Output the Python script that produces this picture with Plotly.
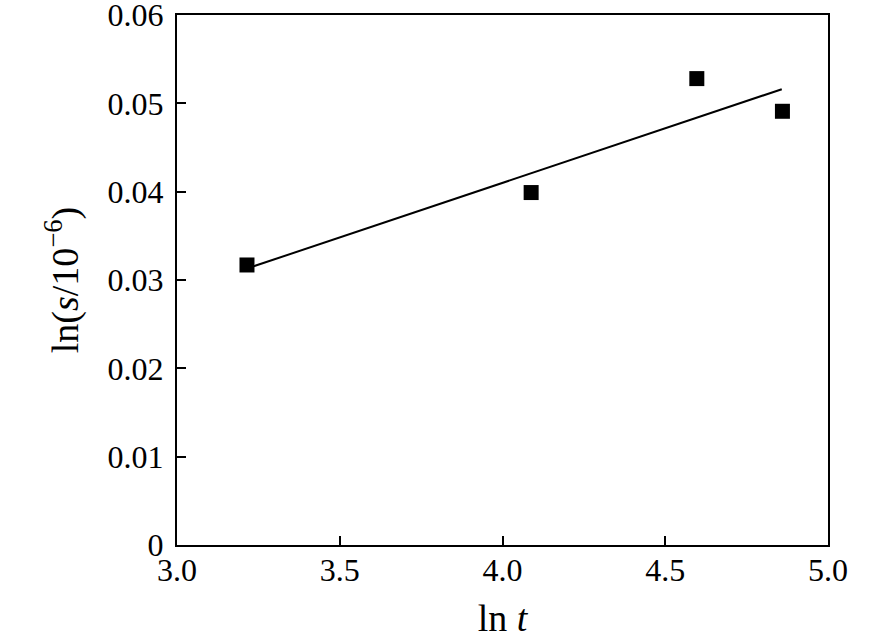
import plotly.graph_objects as go

# measured points
ln_t = [3.215, 4.088, 4.597, 4.860]
ln_s = [0.0317, 0.0399, 0.0528, 0.0491]

# fitted line ends
fit_x = [3.215, 4.858]
fit_y = [0.0313, 0.0516]

x_ticks = [3.0, 3.5, 4.0, 4.5, 5.0]
x_labels = ["3.0", "3.5", "4.0", "4.5", "5.0"]
y_ticks = [0, 0.01, 0.02, 0.03, 0.04, 0.05, 0.06]
y_labels = ["0", "0.01", "0.02", "0.03", "0.04", "0.05", "0.06"]

fig = go.Figure()

fig.add_trace(go.Scatter(x=fit_x, y=fit_y, mode='lines',
                         line=dict(color='black', width=2),
                         showlegend=False))
fig.add_trace(go.Scatter(x=ln_t, y=ln_s, mode='markers',
                         marker=dict(symbol='square', size=15, color='black'),
                         showlegend=False))

fnt = dict(family='Liberation Serif', size=32, color='black')

fig.update_layout(
    width=886, height=642,
    margin=dict(l=177, r=58, t=15, b=97),
    plot_bgcolor='white', paper_bgcolor='white',
    font=fnt,
    xaxis=dict(range=[3.0, 5.0], tickvals=x_ticks, ticktext=x_labels,
               ticks='inside', ticklen=9, tickwidth=2, tickcolor='black',
               showline=True, linewidth=2, linecolor='black', mirror=True,
               showgrid=False, zeroline=False, automargin=False,
               title=dict(text='ln <i>t</i>', standoff=17),
               ticklabelstandoff=-4, ticklabeloverflow='allow'),
    yaxis=dict(range=[0, 0.06000001], tickvals=y_ticks, ticktext=y_labels,
               ticks='inside', ticklen=9, tickwidth=2, tickcolor='black',
               showline=True, linewidth=2, linecolor='black', mirror=True,
               showgrid=False, zeroline=False, automargin=False,
               title=dict(text='ln(<i>s</i>/10<sup>−6</sup>)', standoff=17),
               ticklabelstandoff=5, ticklabeloverflow='allow'),
)

# drop the browser's default 8px page margin so the figure fills the window
fig.write_html("out.html", config={'displayModeBar': False},
               post_script="document.body.style.margin='0';")
